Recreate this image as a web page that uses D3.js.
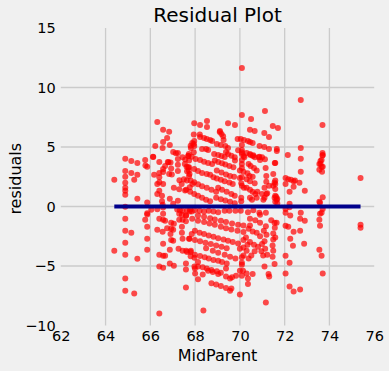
<!DOCTYPE html>
<html>
<head>
<meta charset="utf-8">
<script src="https://cdn.jsdelivr.net/npm/d3@7"></script>
<style>
  html, body { margin: 0; padding: 0; background: #f0f0f0; }
  svg { display: block; font-family: "DejaVu Sans", sans-serif; }
</style>
</head>
<body>
<div id="chart"></div>
<script>
// [MidParent, residual] pairs, grouped by area
var topPoints = [
  [70.09,11.63],[72.72,8.94],[71.12,8.02],[70.09,7.69],[70.5,7.35],[66.31,7.1],[67.96,7.0],[68.22,6.85],
  [68.53,7.18],[68.53,6.68],[69.47,7.0],[69.78,6.85],[71.47,6.76],[71.7,6.6],[73.69,6.85],[66.57,6.45],
  [70.45,6.45],[69.11,6.35],[66.84,6.29],[67.94,6.04],[68.21,6.06],[69.1,6.26],[71.09,6.18],[70.66,6.35],[69.18,6.09]
];
var upperPoints = [
  [66.75,5.76],[66.22,5.09],[66.55,4.92],[66.57,5.42],[66.87,5.17],[67.02,4.58],[67.23,4.5],[66.13,4.17],
  [65.77,3.91],[65.15,3.83],[65.42,3.66],[65.86,3.33],[68.22,5.84],[68.4,5.76],[68.52,5.67],[68.67,5.59],
  [68.76,5.51],[69.25,5.9],[69.27,5.59],[69.9,5.67],[67.14,4.47],[67.23,4.0],[66.81,3.71],[66.9,3.69],
  [67.7,4.25],[67.62,3.35],[71.3,5.84],[70.04,5.67],[70.18,5.59],[70.36,5.51],[70.45,5.42],[70.57,5.34],
  [70.09,5.17],[70.88,5.09],[71.09,5.0],[71.3,4.84],[71.65,4.84],[71.65,4.67],[72.14,4.33],[72.72,4.92],
  [72.72,4.02],[73.7,4.33],[73.6,3.83],[73.65,3.35],[73.6,3.6],[73.69,4.5],[69.78,3.86],[69.92,4.72],
  [70.09,4.55],[70.17,4.25],[70.2,4.13],[70.47,4.33],[70.58,4.25],[70.67,4.13],[70.85,4.13],[71.12,3.97],
  [71.56,3.66],[64.88,4.02],[64.88,2.99],[65.15,2.82],[65.42,2.66],[64.88,2.49],[64.88,1.99],[64.88,1.57],
  [64.88,1.32],[64.88,0.98],[64.39,2.24],[65.28,2.24],[65.42,0.65],[65.86,0.34],[65.78,3.44],[66.12,4.19]
];
var centerUpper = [
  [67.87,5.34],[67.96,5.09],[67.81,4.92],[67.72,4.42],[67.69,4.25],[67.96,5.51],[68.31,4.84],[68.49,4.84],
  [68.58,4.75],[68.97,5.26],[69.15,5.17],[69.35,5.09],[69.47,4.92],[69.38,4.58],[69.47,4.42],[69.62,4.27],
  [69.77,4.13],[68.85,4.42],[69.03,4.33],[69.18,4.25],[69.32,4.17],[68.02,4.0],[68.22,3.91],[68.4,3.77],
  [68.58,3.66],[68.76,3.58],[68.88,3.86],[69.03,3.75],[69.2,3.63],[69.35,3.52],[69.53,3.41],[69.71,3.3],
  [70.09,4.75],[70.09,4.42],[70.09,3.91],[70.09,3.58],[70.09,3.24],[70.3,4.5],[70.45,4.42],[70.6,4.3],
  [70.87,4.19],[70.39,3.58],[70.48,3.41],[70.63,3.24],[70.75,3.02],[71.15,3.24],[71.18,2.57],[71.18,2.07],
  [71.1,1.57],[71.18,1.06],[70.9,3.91],[70.99,4.13],[71.58,3.66],[71.58,2.18],[71.49,2.74],[71.55,2.01],
  [71.55,0.73],[71.64,0.56],[71.67,0.28],[70.78,1.23],[70.99,1.06],[71.1,0.73],[70.18,1.57],[70.3,1.57],
  [70.45,1.4],[70.57,1.23],[70.69,1.06],[70.0,2.4],[70.09,2.46],[70.3,2.29],[70.45,2.12],[70.66,1.95],
  [70.0,3.02],[70.16,2.91],[70.34,2.79],[70.43,2.57],[70.57,2.49],[70.06,1.95],[70.09,1.74],[70.06,0.73],
  [70.06,0.45],[70.45,0.73],[70.54,0.56],[70.75,0.73],[71.05,0.56],[71.22,1.12],[71.31,1.74],[67.54,3.58],
  [67.69,3.3],[67.75,2.74],[67.63,2.18],[67.72,3.02],[67.96,3.16],[68.13,2.99],[68.31,2.82],[68.52,2.74],
  [68.67,2.66],[67.96,2.04],[68.13,1.87],[68.31,1.7],[68.52,1.57],[68.73,1.4],[68.94,1.23],[68.82,2.46],
  [68.97,2.35],[69.15,2.24],[69.32,2.12],[69.53,2.01],[69.68,1.9],[68.97,3.02],[69.18,2.85],[69.38,2.68],
  [69.56,2.57],[69.74,2.51],[69.03,1.57],[69.2,1.4],[69.41,1.23],[69.62,1.06],[69.77,0.9],[67.6,1.4],
  [67.78,1.23],[67.96,1.06],[68.13,0.9],[68.31,0.73],[68.49,0.56],[68.67,0.45],[68.94,0.73],[69.15,0.61],
  [69.35,0.5],[69.56,0.39],[69.77,0.28]
];
var leftMiddle = [
  [66.57,2.9],[66.4,2.46],[66.4,2.04],[66.57,1.9],[66.31,1.06],[66.52,0.9],[66.52,0.45],[66.87,0.65],
  [67.23,0.48],[66.93,3.19],[66.96,2.68],[66.78,3.75],[67.23,3.5],[67.23,2.99],[67.3,2.2],[67.4,1.9],
  [67.5,2.3],[67.05,1.57],[67.29,1.45],[67.55,1.34],[67.73,2.57],[67.8,2.18],[67.88,1.9],[67.76,1.62],
  [67.73,3.3],[67.64,2.96],[67.73,3.86],[67.85,4.19],[67.94,4.55],[67.8,5.11],[67.94,5.25],[67.44,4.13],
  [67.56,3.94],[66.04,-0.28],[66.31,-0.23],[66.55,0.14],[65.86,-0.67],[66.4,1.32],[66.31,1.9],[66.17,2.66],
  [66.4,2.82],[66.57,3.16],[66.66,3.41],[66.4,3.75],[66.84,2.74],[67.02,0.23]
];
var rightMiddle = [
  [73.65,3.91],[73.55,3.58],[73.7,3.35],[73.55,3.08],[73.67,2.91],[72.72,2.91],[75.39,2.4],[72.04,2.4],
  [72.16,2.29],[72.28,2.24],[72.4,2.12],[72.46,2.18],[71.58,1.9],[71.49,1.74],[72.04,1.9],[72.66,1.99],
  [72.9,1.32],[72.4,1.65],[72.22,1.23],[71.58,0.9],[71.67,0.65],[71.58,0.39],[72.22,0.23],[72.22,-0.06],
  [73.7,0.78],[73.55,0.39],[73.69,4.28],[71.58,1.48],[71.62,0.81],[73.58,0.31]
];
var lowerLeft = [
  [64.88,-0.03],[64.88,-1.03],[64.88,-2.04],[64.88,-3.04],[64.88,-4.05],[64.88,-6.06],[64.88,-7.07],[65.28,-7.32],
  [65.15,-2.2],[64.39,-3.71],[65.42,-4.39],[65.77,-1.12],[65.86,-0.56],[65.86,-1.7],[65.86,-2.71],[65.86,-3.63],
  [66.4,-9.0],[66.31,-1.95],[66.4,-1.03],[66.57,-1.12],[66.66,-1.2],[66.57,-0.61],[66.57,-0.08],[66.55,-2.12],
  [66.57,-3.13],[66.4,-4.05],[66.57,-4.13],[66.66,-4.13],[66.4,-5.05],[66.57,-5.14],[66.87,-3.63],[66.87,-4.8],
  [67.05,-4.97],[66.75,-1.82],[66.93,-1.87],[67.02,-1.95],[66.93,-1.37],[67.05,-1.45],[66.9,-2.32],[66.93,-2.82],
  [67.02,-2.88],[67.29,-0.61],[67.41,-0.7],[67.59,-0.75],[67.29,-1.12],[67.44,-1.12],[67.59,-1.23],[67.41,-1.7],
  [67.41,-2.2],[67.44,-2.71],[67.26,-3.55],[67.44,-3.71],[67.64,-3.83],[67.8,-3.83],[67.59,-4.8],[67.59,-5.3],
  [67.59,-6.81],[67.8,-4.19],[67.97,-4.3],[67.97,-5.05],[67.73,-2.71],[67.85,-2.32],[67.64,-0.34],[67.76,-0.42],
  [67.85,-0.42],[67.2,-0.25],[67.32,-0.31],[67.44,-0.36]
];
var lowerCenter = [
  [67.78,-0.25],[67.99,-0.31],[68.2,-0.36],[68.4,-0.42],[68.61,-0.36],[68.82,-0.42],[69.03,-0.48],[69.32,-0.36],
  [69.53,-0.36],[69.8,-0.36],[70.04,-0.36],[70.36,-0.48],[70.6,-0.31],[70.87,-0.53],[71.16,-0.53],
  [67.6,-0.75],[67.87,-1.03],[68.13,-1.2],[68.4,-1.31],[68.64,-1.42],[68.88,-1.53],[69.15,-1.7],[69.38,-1.82],
  [69.62,-1.93],[69.89,-2.04],[70.16,-2.15],[68.13,-0.75],[68.4,-0.86],[68.67,-0.98],[68.88,-1.09],[69.15,-1.2],
  [69.38,-1.31],[69.65,-1.42],[69.92,-1.53],[70.16,-1.59],[70.45,-1.59],[67.99,-2.04],[68.2,-2.2],[68.4,-2.32],
  [68.61,-2.43],[68.82,-2.54],[69.03,-2.66],[69.27,-2.77],[69.47,-2.88],[69.68,-2.99],[69.92,-3.1],[67.75,-2.71],
  [67.99,-2.82],[68.22,-2.93],[68.46,-3.04],[68.7,-3.16],[68.94,-3.27],[69.18,-3.38],[69.41,-3.5],[67.99,-4.05],
  [68.22,-4.16],[68.43,-4.27],[68.61,-4.38],[68.82,-4.5],[69.03,-4.55],[69.2,-4.67],[69.41,-4.78],[67.6,-3.71],
  [67.81,-3.71],[68.49,-3.5],[68.79,-3.71],[69.03,-3.88],[69.32,-4.05],[69.56,-4.22],[69.8,-4.38],[68.13,-5.05],
  [68.34,-5.11],[68.52,-5.22],[68.73,-5.34],[68.97,-5.45],[69.15,-5.56],[67.99,-5.22],[68.13,-4.67],[68.34,-5.72],
  [68.58,-5.39],[68.79,-5.5],[69.03,-5.67],[69.38,-5.22],[69.38,-5.89],[69.56,-6.06],[69.65,-5.95],[69.62,-6.9],
  [69.56,-7.07],[68.73,-6.45],[68.94,-6.56],[69.15,-6.68],[69.38,-6.85],[68.13,-6.12],[68.37,-8.74],[70.0,-5.39],
  [70.09,-4.72],[70.09,-4.27],[70.09,-4.89],[70.36,-6.51],[70.36,-6.06],[70.3,-5.62],[70.57,-5.67],[70.0,-7.4],
  [71.16,-8.07],[71.28,-5.67],[71.31,-5.89],[71.1,-5.05],[71.55,-4.84],[71.46,-4.22],[71.49,-3.71],[71.46,-3.27],
  [71.49,-2.77],[71.58,-2.6],[71.49,-2.26],[71.04,-4.11],[71.22,-4.05],[70.96,-3.77],[71.13,-3.55],[70.99,-3.16],
  [71.1,-2.93],[71.19,-2.37],[71.07,-2.04],[70.9,-1.37],[71.16,-1.65],[71.55,-1.37],[71.64,-1.37],[70.45,-2.99],
  [70.63,-3.21],[70.81,-3.38],[70.66,-3.77],[70.51,-4.11],[70.39,-4.38],[70.39,-1.87],[70.57,-2.1],[70.75,-2.2],
  [70.9,-2.49],[70.27,-2.6],[70.16,-2.82],[70.45,-1.03],[70.69,-1.15],[70.9,-0.7],[71.4,-1.15],[70.16,-3.44],
  [70.0,-3.55],[70.3,-3.71],[70.16,-4.11],[70.34,-3.21],[70.09,-5.81],[70.14,-5.39],[69.83,-5.81],[68.0,-5.64]
];
var lowerRight = [
  [72.04,-0.2],[72.04,-0.53],[72.25,-0.75],[72.72,-0.53],[72.69,-1.03],[72.9,-1.2],[73.58,-0.61],[73.55,-1.12],
  [73.58,-1.62],[73.7,-0.2],[75.39,-1.54],[75.39,-1.79],[71.56,-1.79],[72.04,-1.62],[72.16,-1.7],[72.4,-2.12],
  [72.25,-2.71],[72.37,-3.29],[72.04,-4.13],[72.22,-4.72],[72.04,-5.64],[72.69,-2.04],[72.87,-3.13],[73.55,-3.63],
  [73.65,-4.13],[73.7,-5.64],[72.22,-6.73],[72.4,-7.15],[72.69,-6.98],[73.65,-0.53]
];

var xTicks = [62, 64, 66, 68, 70, 72, 74, 76];
var yTicks = [-10, -5, 0, 5, 10, 15];
var yTickLabels = ["\u221210", "\u22125", "0", "5", "10", "15"];

var width = 389, height = 371;
var plotLeft = 60.8, plotRight = 374.2, plotTop = 28, plotBottom = 325.5;

var points = [].concat(topPoints, upperPoints, centerUpper, leftMiddle, rightMiddle, lowerLeft, lowerCenter, lowerRight);

var x = d3.scaleLinear().domain([62, 76]).range([plotLeft, plotRight]);
var y = d3.scaleLinear().domain([-10, 15]).range([plotBottom, plotTop]);

var svg = d3.select("#chart").append("svg")
  .attr("width", width)
  .attr("height", height);

svg.append("rect").attr("width", width).attr("height", height).attr("fill", "#f0f0f0");

// grid (edge lines are not visible in the original)
svg.append("g").selectAll("line")
  .data(xTicks.slice(1, -1))
  .join("line")
  .attr("x1", d => x(d)).attr("x2", d => x(d))
  .attr("y1", plotTop).attr("y2", plotBottom)
  .attr("stroke", "#cbcbcb").attr("stroke-width", 1.3);
svg.append("g").selectAll("line")
  .data(yTicks.slice(1, -1))
  .join("line")
  .attr("x1", plotLeft).attr("x2", plotRight)
  .attr("y1", d => y(d)).attr("y2", d => y(d))
  .attr("stroke", "#cbcbcb").attr("stroke-width", 1.3);

var xAxis = svg.append("g")
  .attr("transform", "translate(0," + plotBottom + ")")
  .call(d3.axisBottom(x).tickValues(xTicks).tickSize(0).tickPadding(5).tickFormat(d3.format("d")));
var yAxis = svg.append("g")
  .attr("transform", "translate(" + plotLeft + ",0)")
  .call(d3.axisLeft(y).tickValues(yTicks).tickSize(0).tickPadding(5)
    .tickFormat((d, i) => yTickLabels[i]));
[xAxis, yAxis].forEach(function(g) {
  g.select(".domain").remove();
  g.selectAll("text")
    .attr("font-family", "DejaVu Sans, sans-serif")
    .attr("font-size", "14.5px")
    .attr("fill", "#000");
});

// points
svg.append("g").selectAll("circle")
  .data(points)
  .join("circle")
  .attr("cx", d => x(d[0]))
  .attr("cy", d => y(d[1]))
  .attr("r", 3)
  .attr("fill", "red")
  .attr("fill-opacity", 0.7);

// zero residual line across the MidParent range
var ext = d3.extent(points, d => d[0]);
svg.append("line")
  .attr("x1", x(ext[0])).attr("x2", x(ext[1]))
  .attr("y1", y(0)).attr("y2", y(0))
  .attr("stroke", "#00008b")
  .attr("stroke-width", 4);

svg.append("text")
  .attr("x", (plotLeft + plotRight) / 2).attr("y", 22.3)
  .attr("text-anchor", "middle")
  .attr("font-size", "20px")
  .text("Residual Plot");

svg.append("text")
  .attr("x", (plotLeft + plotRight) / 2).attr("y", 360.5)
  .attr("text-anchor", "middle")
  .attr("font-size", "16px")
  .text("MidParent");

svg.append("text")
  .attr("transform", "translate(20.5," + ((plotTop + plotBottom) / 2 + 2) + ") rotate(-90)")
  .attr("text-anchor", "middle")
  .attr("font-size", "16px")
  .text("residuals");
</script>
</body>
</html>
